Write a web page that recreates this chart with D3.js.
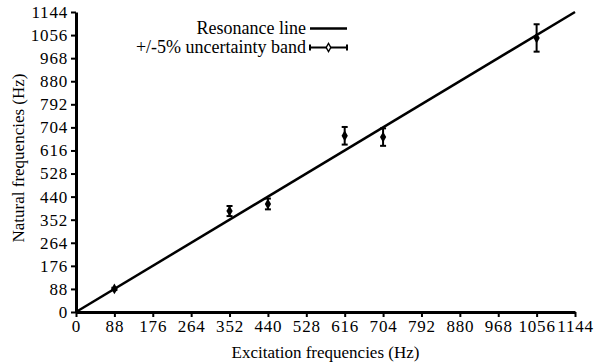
<!DOCTYPE html>
<html>
<head>
<meta charset="utf-8">
<script src="https://cdn.jsdelivr.net/npm/d3@7"></script>
<style>
  body { margin: 0; background: #fff; }
</style>
</head>
<body>
<svg id="chart" width="597" height="364"></svg>
<script>
const tickValues = [0, 88, 176, 264, 352, 440, 528, 616, 704, 792, 880, 968, 1056, 1144];
const excitation = [88, 352, 440, 616, 704, 1056];
const natural = [88, 385, 412, 672, 667, 1045];
const uncertainty = 0.05;
const resonance = [0, 1144];

const FONT = '"Liberation Serif", "Times New Roman", serif';
const margin = { top: 12, right: 22, bottom: 52, left: 76 };
const svg = d3.select("#chart");
const width = 597 - margin.left - margin.right;
const height = 364 - margin.top - margin.bottom;

const g = svg.append("g").attr("transform", `translate(${margin.left},${margin.top})`);

const xScale = d3.scaleLinear().domain([0, 1144]).range([0, width]);
const yScale = d3.scaleLinear().domain([0, 1144]).range([height, 0]);

// axes
const xAxis = g.append("g")
  .attr("transform", `translate(0,${height})`)
  .call(d3.axisBottom(xScale).tickValues(tickValues).tickFormat(d3.format("d"))
    .tickSize(5).tickPadding(3).tickSizeOuter(0));
const yAxis = g.append("g")
  .call(d3.axisLeft(yScale).tickValues(tickValues).tickFormat(d3.format("d"))
    .tickSize(5).tickPadding(3).tickSizeOuter(0));

[xAxis, yAxis].forEach((ax) => {
  ax.select(".domain").attr("stroke", "#000").attr("stroke-width", 3);
  ax.selectAll(".tick line").attr("stroke", "#000").attr("stroke-width", 2);
  ax.selectAll(".tick text")
    .attr("fill", "#000")
    .style("font-family", FONT)
    .style("font-size", "17px")
    .style("letter-spacing", "0.8px");
});

// resonance line
const line = d3.line().x((d) => xScale(d)).y((d) => yScale(d));
g.append("path")
  .datum(resonance)
  .attr("d", line)
  .attr("fill", "none")
  .attr("stroke", "#000")
  .attr("stroke-width", 2.5);

// measured points with +/-5% bars
const data = excitation.map((x, i) => ({ x, y: natural[i] }));
const diamond = d3.symbol().type(d3.symbolDiamond).size(34);

const pts = g.selectAll(".pt").data(data).join("g").attr("class", "pt");
pts.append("line")
  .attr("x1", (d) => xScale(d.x)).attr("x2", (d) => xScale(d.x))
  .attr("y1", (d) => yScale(d.y * (1 + uncertainty)))
  .attr("y2", (d) => yScale(d.y * (1 - uncertainty)))
  .attr("stroke", "#000").attr("stroke-width", 2);
[1 + uncertainty, 1 - uncertainty].forEach((f) => {
  pts.append("line")
    .attr("x1", (d) => xScale(d.x) - 3).attr("x2", (d) => xScale(d.x) + 3)
    .attr("y1", (d) => yScale(d.y * f)).attr("y2", (d) => yScale(d.y * f))
    .attr("stroke", "#000").attr("stroke-width", 2);
});
pts.append("path")
  .attr("d", diamond)
  .attr("transform", (d) => `translate(${xScale(d.x)},${yScale(d.y)})`)
  .attr("fill", "#000");

// axis titles
svg.append("text")
  .attr("x", margin.left + width / 2)
  .attr("y", 358)
  .attr("text-anchor", "middle")
  .style("font-family", FONT)
  .style("font-size", "17px")
  .text("Excitation frequencies (Hz)");
svg.append("text")
  .attr("transform", `translate(24,${margin.top + height / 2 - 4}) rotate(-90)`)
  .attr("text-anchor", "middle")
  .style("font-family", FONT)
  .style("font-size", "17px")
  .text("Natural frequencies (Hz)");

// legend
const legend = svg.append("g").attr("transform", "translate(306,0)");
legend.append("text").attr("x", 0).attr("y", 34).attr("text-anchor", "end")
  .style("font-family", FONT).style("font-size", "18px")
  .text("Resonance line");
legend.append("line").attr("x1", 4).attr("x2", 41).attr("y1", 28.5).attr("y2", 28.5)
  .attr("stroke", "#000").attr("stroke-width", 2.5);
legend.append("text").attr("x", 0).attr("y", 53).attr("text-anchor", "end")
  .style("font-family", FONT).style("font-size", "18px")
  .text("+/-5% uncertainty band");
legend.append("line").attr("x1", 4).attr("x2", 41).attr("y1", 47.5).attr("y2", 47.5)
  .attr("stroke", "#000").attr("stroke-width", 2);
[4, 41].forEach((cx) => {
  legend.append("line").attr("x1", cx).attr("x2", cx).attr("y1", 44.5).attr("y2", 50.5)
    .attr("stroke", "#000").attr("stroke-width", 2);
});
legend.append("path").attr("d", diamond).attr("transform", "translate(22.5,47.5)")
  .attr("fill", "#000");
legend.append("path").attr("d", d3.symbol().type(d3.symbolDiamond).size(8))
  .attr("transform", "translate(22.5,47.5)").attr("fill", "#fff");
</script>
</body>
</html>
